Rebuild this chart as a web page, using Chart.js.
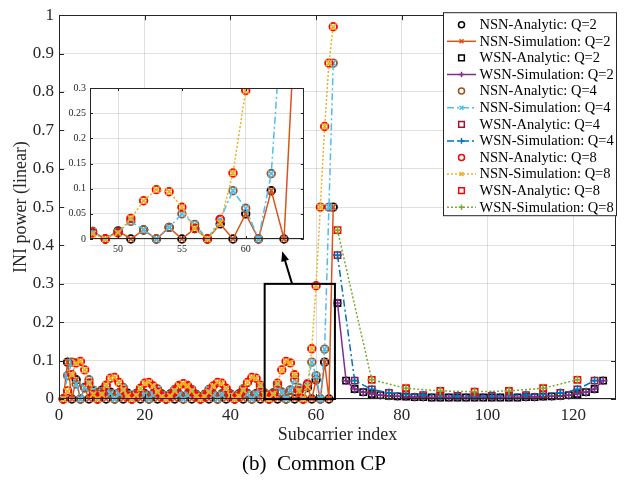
<!DOCTYPE html>
<html>
<head>
<meta charset="utf-8">
<script src="https://cdn.jsdelivr.net/npm/chart.js"></script>
<style>
    html, body { margin: 0; padding: 0; background: #fff; }
    #wrap { position: relative; width: 625px; height: 485px; overflow: hidden; }
    #main-chart { position: absolute; left: 0; top: 0; }
    #inset-chart { position: absolute; left: 62px; top: 78px; }
    #caption {
        position: absolute; left: 0; top: 451px; width: 628px;
        text-align: center; font: 21px 'Liberation Serif', 'Times New Roman', serif; color: #000;
    }
</style>
</head>
<body>
<div id="wrap">
    <canvas id="main-chart" width="625" height="485"></canvas>
    <canvas id="inset-chart" width="248" height="185"></canvas>
    <div id="caption">(b)&nbsp;&nbsp;Common CP</div>
</div>
<script>
// ---- data ----
const nsnIndex = [1, 2, 3, 4, 5, 6, 7, 8, 9, 10, 11, 12, 13, 14, 15, 16,
    17, 18, 19, 20, 21, 22, 23, 24, 25, 26, 27, 28, 29, 30, 31, 32,
    33, 34, 35, 36, 37, 38, 39, 40, 41, 42, 43, 44, 45, 46, 47, 48,
    49, 50, 51, 52, 53, 54, 55, 56, 57, 58, 59, 60, 61, 62, 63, 64];

const nsnQ2 = [0, 0.096, 0, 0.050, 0, 0.030, 0, 0.021,
    0, 0.023, 0, 0.018, 0, 0.016, 0, 0.015,
    0, 0.014, 0, 0.014, 0, 0.013, 0, 0.013,
    0, 0.013, 0, 0.012, 0, 0.012, 0, 0.012,
    0, 0.012, 0, 0.012, 0, 0.013, 0, 0.013,
    0, 0.013, 0, 0.014, 0, 0.014, 0, 0.015,
    0, 0.016, 0, 0.018, 0, 0.023, 0, 0.021,
    0, 0.030, 0, 0.050, 0, 0.096, 0, 0.500];

const nsnQ4 = [0, 0.061, 0.096, 0.039, 0, 0.029, 0.050, 0.023,
    0, 0.018, 0.035, 0.014, 0, 0.015, 0.030, 0.012,
    0, 0.013, 0.027, 0.011, 0, 0.012, 0.026, 0.011,
    0, 0.011, 0.025, 0.011, 0, 0.011, 0.025, 0.011,
    0, 0.011, 0.025, 0.011, 0, 0.011, 0.026, 0.012,
    0, 0.011, 0.027, 0.013, 0, 0.012, 0.030, 0.015,
    0, 0.014, 0.035, 0.018, 0, 0.023, 0.050, 0.029,
    0, 0.039, 0.096, 0.061, 0, 0.130, 0.500, 0.875];

const nsnAnaQ8 = [0, 0.021, 0.063, 0.094, 0.098, 0.076, 0.041, 0.012,
    0, 0.012, 0.036, 0.054, 0.056, 0.043, 0.023, 0.007,
    0, 0.009, 0.028, 0.041, 0.043, 0.034, 0.018, 0.006,
    0, 0.007, 0.021, 0.035, 0.040, 0.035, 0.021, 0.007,
    0, 0.006, 0.018, 0.034, 0.043, 0.041, 0.028, 0.009,
    0, 0.007, 0.023, 0.043, 0.056, 0.054, 0.036, 0.012,
    0, 0.012, 0.041, 0.076, 0.098, 0.094, 0.063, 0.021,
    0, 0.039, 0.131, 0.295, 0.500, 0.710, 0.875, 0.970];

const nsnSimQ8 = [0, 0.020, 0.063, 0.094, 0.098, 0.076, 0.041, 0.012,
    0, 0.012, 0.036, 0.054, 0.056, 0.043, 0.023, 0.007,
    0, 0.009, 0.028, 0.041, 0.043, 0.034, 0.018, 0.006,
    0, 0.007, 0.021, 0.035, 0.040, 0.035, 0.021, 0.007,
    0, 0.006, 0.018, 0.034, 0.043, 0.041, 0.028, 0.009,
    0, 0.007, 0.023, 0.043, 0.056, 0.054, 0.036, 0.010,
    0, 0.012, 0.041, 0.076, 0.098, 0.094, 0.063, 0.021,
    0, 0.032, 0.131, 0.295, 0.500, 0.710, 0.875, 0.970];

const wsnIndexQ2 = [65, 67, 69, 71, 73, 75, 77, 79, 81, 83, 85, 87, 89, 91, 93, 95,
    97, 99, 101, 103, 105, 107, 109, 111, 113, 115, 117, 119, 121, 123, 125, 127];
const wsnQ2 = [0.250, 0.048, 0.026, 0.018, 0.013, 0.010, 0.008, 0.007,
    0.006, 0.005, 0.005, 0.004, 0.004, 0.004, 0.004, 0.004,
    0.004, 0.004, 0.004, 0.004, 0.004, 0.004, 0.005, 0.005,
    0.006, 0.007, 0.008, 0.010, 0.013, 0.018, 0.026, 0.048];

const wsnIndexQ4 = [65, 69, 73, 77, 81, 85, 89, 93, 97, 101, 105, 109, 113, 117, 121, 125];
const wsnQ4 = [0.375, 0.048, 0.025, 0.016, 0.012, 0.010, 0.009, 0.008,
    0.008, 0.008, 0.009, 0.010, 0.012, 0.016, 0.025, 0.048];

const wsnIndexQ8 = [65, 73, 81, 89, 97, 105, 113, 121];
const wsnQ8 = [0.440, 0.050, 0.028, 0.021, 0.019, 0.021, 0.028, 0.050];

const xTicksMain = [0, 20, 40, 60, 80, 100, 120];
const yTicksMain = [0, 0.1, 0.2, 0.3, 0.4, 0.5, 0.6, 0.7, 0.8, 0.9, 1];
const xTicksInset = [50, 55, 60];
const yTicksInset = [0, 0.05, 0.1, 0.15, 0.2, 0.25, 0.3];

// ---- series styles (MATLAB-like) ----
const seriesList = [
    {label: 'NSN-Analytic: Q=2', xs: nsnIndex, ys: nsnQ2, color: '#000000', marker: 'circle', dash: null},
    {label: 'NSN-Simulation: Q=2', xs: nsnIndex, ys: nsnQ2, color: '#D95319', marker: 'crossRot', dash: []},
    {label: 'WSN-Analytic: Q=2', xs: wsnIndexQ2, ys: wsnQ2, color: '#000000', marker: 'rect', dash: null},
    {label: 'WSN-Simulation: Q=2', xs: wsnIndexQ2, ys: wsnQ2, color: '#7E2F8E', marker: 'cross', dash: []},
    {label: 'NSN-Analytic: Q=4', xs: nsnIndex, ys: nsnQ4, color: '#A5501E', marker: 'circle', dash: null},
    {label: 'NSN-Simulation: Q=4', xs: nsnIndex, ys: nsnQ4, color: '#4DBEEE', marker: 'crossRot', dash: [7, 3, 2, 3]},
    {label: 'WSN-Analytic: Q=4', xs: wsnIndexQ4, ys: wsnQ4, color: '#A2142F', marker: 'rect', dash: null},
    {label: 'WSN-Simulation: Q=4', xs: wsnIndexQ4, ys: wsnQ4, color: '#0072BD', marker: 'cross', dash: [7, 3, 2, 3]},
    {label: 'NSN-Analytic: Q=8', xs: nsnIndex, ys: nsnAnaQ8, color: '#FF0000', marker: 'circle', dash: null},
    {label: 'NSN-Simulation: Q=8', xs: nsnIndex, ys: nsnSimQ8, color: '#EDB120', marker: 'crossRot', dash: [2, 2]},
    {label: 'WSN-Analytic: Q=8', xs: wsnIndexQ8, ys: wsnQ8, color: '#FF0000', marker: 'rect', dash: null},
    {label: 'WSN-Simulation: Q=8', xs: wsnIndexQ8, ys: wsnQ8, color: '#77AC30', marker: 'cross', dash: [2, 2]}
];

const serif = "'Liberation Serif', 'Times New Roman', serif";
const axisColor = '#262626';
const gridColor = 'rgba(38,38,38,0.14)';

function markerRadius(marker) {
    if (marker === 'circle') return 3.8;
    if (marker === 'crossRot') return 4.6;
    return 4.4;
}

// plain number labels: 0, 0.1, ..., 1 and 0, 0.05, ...
function plainLabel(value) {
    return String(Math.round(value * 1000) / 1000);
}

function buildDatasets(onlyNsn, clip) {
    let sets = [];
    seriesList.forEach((s, i) => {
        if (onlyNsn && s.xs !== nsnIndex) return;
        sets.push({
            label: s.label,
            data: s.xs.map((x, j) => ({x: x, y: s.ys[j]})),
            showLine: s.dash !== null,
            borderColor: s.color,
            borderWidth: 1.5,
            borderDash: s.dash || [],
            pointStyle: s.marker,
            pointRadius: markerRadius(s.marker),
            pointBorderWidth: s.marker === 'circle' ? 1.8 : 1.6,
            pointBorderColor: s.color,
            pointBackgroundColor: 'rgba(0,0,0,0)',
            pointHoverRadius: 0,
            tension: 0,
            clip: clip,
            order: seriesList.length - i   // later series on top, like MATLAB
        });
    });
    return sets;
}

function drawMarker(ctx, style, x, y, r, color) {
    ctx.save();
    ctx.strokeStyle = color;
    ctx.lineWidth = 1.5;
    ctx.setLineDash([]);
    ctx.beginPath();
    if (style === 'circle') {
        ctx.arc(x, y, r, 0, Math.PI * 2);
    } else if (style === 'rect') {
        const h = r * Math.SQRT1_2;
        ctx.rect(x - h, y - h, 2 * h, 2 * h);
    } else if (style === 'cross') {
        ctx.moveTo(x - r, y); ctx.lineTo(x + r, y);
        ctx.moveTo(x, y - r); ctx.lineTo(x, y + r);
    } else {
        const h = r * Math.SQRT1_2;
        ctx.moveTo(x - h, y - h); ctx.lineTo(x + h, y + h);
        ctx.moveTo(x - h, y + h); ctx.lineTo(x + h, y - h);
    }
    ctx.stroke();
    ctx.restore();
}

function drawFrame(chart, tickLen) {
    const {ctx, chartArea: a, scales} = chart;
    ctx.save();
    ctx.strokeStyle = axisColor;
    ctx.lineWidth = 1;
    ctx.beginPath();
    scales.x.ticks.forEach(t => {
        const px = Math.round(scales.x.getPixelForValue(t.value)) + 0.5;
        ctx.moveTo(px, a.bottom); ctx.lineTo(px, a.bottom - tickLen);
        ctx.moveTo(px, a.top); ctx.lineTo(px, a.top + tickLen);
    });
    scales.y.ticks.forEach(t => {
        const py = Math.round(scales.y.getPixelForValue(t.value)) + 0.5;
        ctx.moveTo(a.left, py); ctx.lineTo(a.left + tickLen, py);
        ctx.moveTo(a.right, py); ctx.lineTo(a.right - tickLen, py);
    });
    ctx.stroke();
    ctx.strokeRect(Math.round(a.left) + 0.5, Math.round(a.top) + 0.5,
        Math.round(a.right - a.left) - 1, Math.round(a.bottom - a.top) - 1);
    ctx.restore();
}

// zoom box, arrow and legend on the main axes
const mainExtras = {
    id: 'mainExtras',
    afterDraw(chart) {
        const {ctx, chartArea: a, scales: {x, y}} = chart;
        drawFrame(chart, 5);

        // zoom rectangle around subcarriers 48..64
        ctx.save();
        ctx.strokeStyle = '#000';
        ctx.lineWidth = 2;
        const rx0 = x.getPixelForValue(48), rx1 = x.getPixelForValue(64.4);
        const ry0 = y.getPixelForValue(0.3), ry1 = y.getPixelForValue(0);
        ctx.strokeRect(rx0, ry0, rx1 - rx0, ry1 - ry0);

        // arrow towards the inset
        const ax0 = x.getPixelForValue(54.4), ay0 = y.getPixelForValue(0.3);
        const ax1 = x.getPixelForValue(52.1), ay1 = y.getPixelForValue(0.385);
        const ang = Math.atan2(ay1 - ay0, ax1 - ax0);
        ctx.beginPath();
        ctx.moveTo(ax0, ay0);
        ctx.lineTo(ax1 - 6 * Math.cos(ang), ay1 - 6 * Math.sin(ang));
        ctx.stroke();
        ctx.fillStyle = '#000';
        ctx.beginPath();
        ctx.moveTo(ax1, ay1);
        ctx.lineTo(ax1 - 10 * Math.cos(ang) + 4 * Math.sin(ang), ay1 - 10 * Math.sin(ang) - 4 * Math.cos(ang));
        ctx.lineTo(ax1 - 10 * Math.cos(ang) - 4 * Math.sin(ang), ay1 - 10 * Math.sin(ang) + 4 * Math.cos(ang));
        ctx.closePath();
        ctx.fill();
        ctx.restore();

        // legend box
        const lx0 = 443, ly0 = a.top - 3, lx1 = a.right + 1, ly1 = ly0 + 204;
        ctx.save();
        ctx.fillStyle = '#fff';
        ctx.fillRect(lx0, ly0, lx1 - lx0, ly1 - ly0);
        ctx.strokeStyle = axisColor;
        ctx.lineWidth = 1;
        ctx.strokeRect(lx0 + 0.5, ly0 + 0.5, lx1 - lx0 - 1, ly1 - ly0 - 1);
        ctx.font = '14.5px ' + serif;
        ctx.textBaseline = 'middle';
        ctx.fillStyle = '#000';
        seriesList.forEach((s, i) => {
            const cy = ly0 + 12.5 + i * 16.6;
            if (s.dash !== null) {
                ctx.save();
                ctx.strokeStyle = s.color;
                ctx.lineWidth = 1.5;
                ctx.setLineDash(s.dash);
                ctx.beginPath();
                ctx.moveTo(lx0 + 4, cy);
                ctx.lineTo(lx0 + 33, cy);
                ctx.stroke();
                ctx.restore();
                drawMarker(ctx, s.marker, lx0 + 18.5, cy, 2.8, s.color);
            } else {
                drawMarker(ctx, s.marker, lx0 + 18.5, cy, s.marker === 'circle' ? 3 : 4, s.color);
            }
            ctx.fillText(s.label, lx0 + 36.5, cy + 0.5);
        });
        ctx.restore();
    }
};

const insetExtras = {
    id: 'insetExtras',
    beforeDraw(chart) {
        const {ctx, chartArea: a} = chart;
        ctx.save();
        ctx.fillStyle = '#fff';
        // plot area plus the strip holding the y labels
        ctx.fillRect(a.left, a.top, a.right - a.left, a.bottom - a.top);
        ctx.fillRect(4, a.top - 7, a.left - 4, a.bottom - a.top + 14);
        ctx.restore();
    },
    afterDraw(chart) {
        drawFrame(chart, 3);
    }
};

Chart.defaults.font.family = serif;
Chart.defaults.color = axisColor;

const mainChart = new Chart(document.getElementById('main-chart'), {
    type: 'scatter',
    data: {datasets: buildDatasets(false, {left: 6, top: 6, right: 6, bottom: 6})},
    options: {
        responsive: false,
        animation: false,
        devicePixelRatio: 1,
        layout: {padding: {top: 13, right: 9, left: 0, bottom: 36}},
        plugins: {legend: {display: false}, tooltip: {enabled: false}},
        scales: {
            x: {
                type: 'linear', min: 0, max: 130,
                afterFit: (scale) => { scale.height = 50; },
                afterBuildTicks: (scale) => { scale.ticks = xTicksMain.map(v => ({value: v})); },
                ticks: {font: {size: 17}, padding: 6, color: axisColor, maxRotation: 0, callback: plainLabel},
                grid: {color: gridColor, drawTicks: false},
                border: {display: false},
                title: {display: true, text: 'Subcarrier index', font: {size: 18}, color: axisColor, padding: {top: 0, bottom: 3}}
            },
            y: {
                type: 'linear', min: 0, max: 1,
                afterFit: (scale) => { scale.width = 59; },
                afterBuildTicks: (scale) => { scale.ticks = yTicksMain.map(v => ({value: v})); },
                ticks: {font: {size: 17}, padding: 5, color: axisColor, callback: plainLabel},
                grid: {color: gridColor, drawTicks: false},
                border: {display: false},
                title: {display: true, text: 'INI power (linear)', font: {size: 18}, color: axisColor, padding: {top: 10, bottom: 0}}
            }
        }
    },
    plugins: [mainExtras]
});

const insetChart = new Chart(document.getElementById('inset-chart'), {
    type: 'scatter',
    data: {datasets: buildDatasets(true, {left: 0, top: 0, right: 0, bottom: 6})},
    options: {
        responsive: false,
        animation: false,
        devicePixelRatio: 1,
        layout: {padding: {top: 10, right: 5, left: 0, bottom: 6}},
        plugins: {legend: {display: false}, tooltip: {enabled: false}},
        scales: {
            x: {
                type: 'linear', min: 47.8, max: 64.55,
                afterFit: (scale) => { scale.height = 18; },
                afterBuildTicks: (scale) => { scale.ticks = xTicksInset.map(v => ({value: v})); },
                ticks: {font: {size: 10}, padding: 4, color: axisColor, maxRotation: 0, callback: plainLabel},
                grid: {color: gridColor, drawTicks: false},
                border: {display: false}
            },
            y: {
                type: 'linear', min: 0, max: 0.3,
                afterFit: (scale) => { scale.width = 28; },
                afterBuildTicks: (scale) => { scale.ticks = yTicksInset.map(v => ({value: v})); },
                ticks: {font: {size: 10}, padding: 4, color: axisColor, callback: plainLabel},
                grid: {color: gridColor, drawTicks: false},
                border: {display: false}
            }
        }
    },
    plugins: [insetExtras]
});
</script>
</body>
</html>
